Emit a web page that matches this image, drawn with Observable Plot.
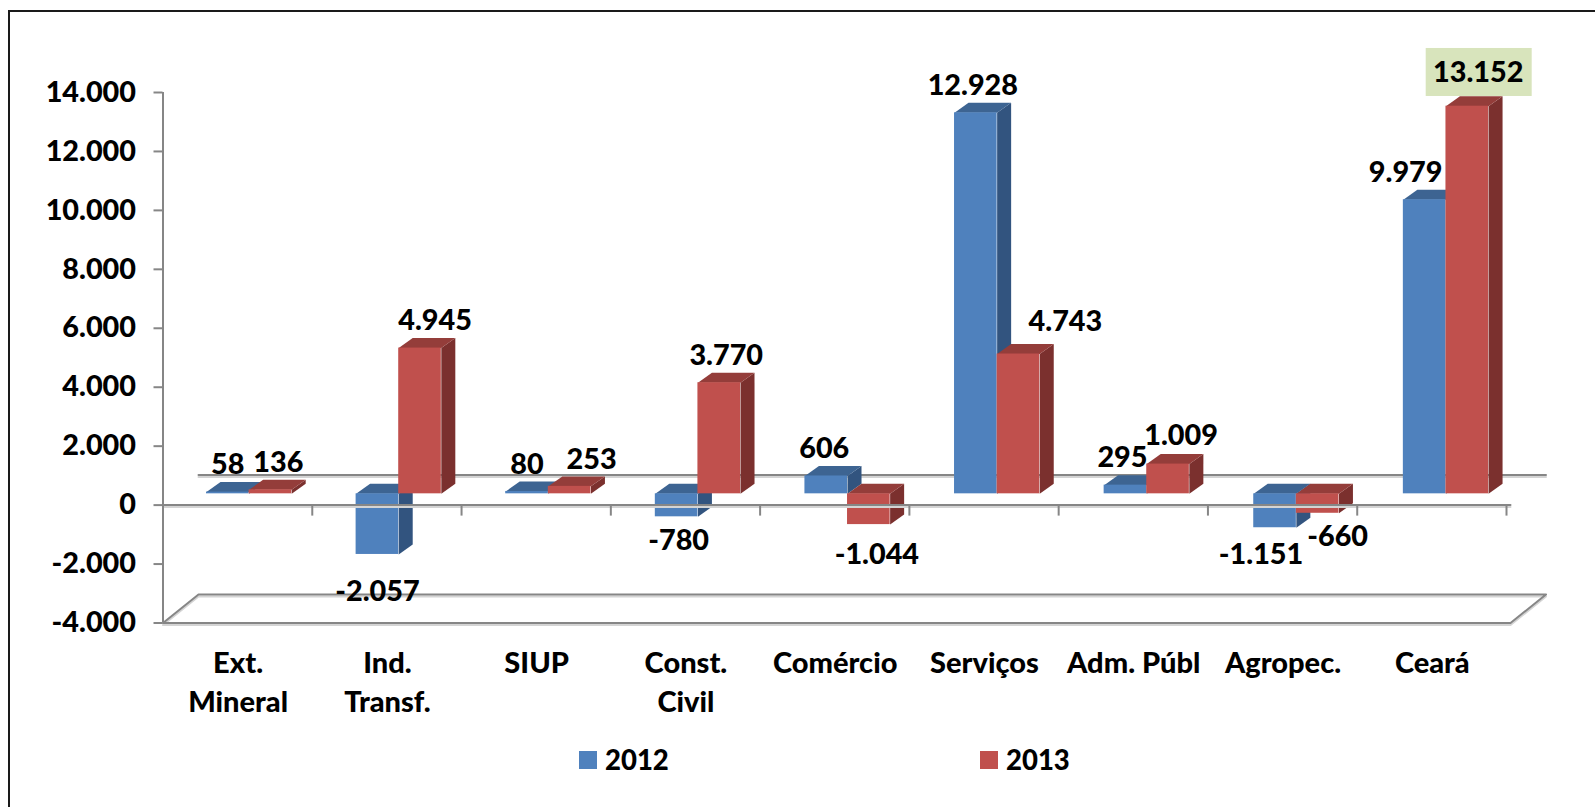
<!DOCTYPE html>
<html>
<head>
<meta charset="utf-8">
<script src="https://cdn.jsdelivr.net/npm/d3@7"></script>
<script src="https://cdn.jsdelivr.net/npm/@observablehq/plot@0.6"></script>
<style>
html,body{margin:0;padding:0;background:#fff;overflow:hidden;}
body{width:1595px;height:807px;position:relative;font-family:Lato,sans-serif;}
#frame{position:absolute;left:8px;top:10px;width:1700px;height:900px;border-style:solid;border-color:#1a1a1a;box-sizing:border-box;border-width:2.5px 0 0 2.5px;}
#chart{position:absolute;left:0;top:0;}
#legend{position:absolute;left:0;top:741px;width:1595px;height:40px;font:900 27.5px Lato,sans-serif;color:#000;}
.sw{position:absolute;top:10px;width:18px;height:18px;}
.lb{position:absolute;top:2px;line-height:34px;}
</style>
</head>
<body>
<div id="frame"></div>
<div id="chart"></div>
<div id="legend"></div>
<script>
const categories = ["Ext.\nMineral","Ind.\nTransf.","SIUP","Const.\nCivil","Comércio","Serviços","Adm. Públ","Agropec.","Ceará"];
const values2012 = [58,-2057,80,-780,606,12928,295,-1151,9979];
const values2013 = [136,4945,253,3770,-1044,4743,1009,-660,13152];
const yTicks = [-4000,-2000,0,2000,4000,6000,8000,10000,12000,14000];
const years = ["2012","2013"];
const colors2012 = {front:"#4F81BD",top:"#3D6492",side:"#32547F"};
const colors2013 = {front:"#C0504D",top:"#943D3A",side:"#7B302E"};
const nudge2012 = [[0,-27],[0,37],[0,-27],[2,24],[-2,-27],[-3,-27],[-3,-27],[-14,27],[-19,-27]];
const nudge2013 = [[8,-27],[15,-27],[22,-27],[7,-27],[8,30],[47,-32],[13,-28],[20,24],[11,-33]];

// Layout of the pseudo-3D scene, in data units
const barStart = 0.2914, barWidth = 0.2854, base = 383, groupStep = 1.0022;
const depthX = 0.0938, depthY = 339;
const wallX = 0.2378, floorDepth = 967, wallY = 1021, overshoot = 0.027;
const axisGray = "#868686", shadow = "#d4d4d4", noteFill = "#D8E4BC";
const FS = 28.8;

const loc = d3.formatLocale({decimal:",",thousands:".",grouping:[3],currency:["",""],minus:"-"});
const fmt = loc.format(",d");

function bars(values, k, col) {
  return values.map((v,i)=>{
    const x1 = i*groupStep+barStart+k*barWidth, x2 = x1+barWidth;
    const hi = base+Math.max(v,0), lo = base+Math.min(v,0);
    return {i,v,x1,x2,hi,lo,cx:(x1+x2)/2,end:base+v,col};
  });
}
function sideFaces(bs){
  return bs.flatMap(b=>[[b.x2,b.hi],[b.x2+depthX,b.hi+depthY],[b.x2+depthX,b.lo+depthY],[b.x2,b.lo],[b.x2,b.hi]]
    .map(([x,y])=>({x,y,id:b.i})));
}
function topFaces(bs){
  return bs.flatMap(b=>[[b.x1,b.hi],[b.x1+depthX,b.hi+depthY],[b.x2+depthX,b.hi+depthY],[b.x2,b.hi],[b.x1,b.hi]]
    .map(([x,y])=>({x,y,id:b.i})));
}
const b12 = bars(values2012,0,colors2012), b13 = bars(values2013,1,colors2013);
const poly = (d,fill)=>Plot.line(d,{x:"x",y:"y",z:"id",fill,stroke:"none",curve:"linear"});
const front = (bs,fill)=>Plot.rect(bs,{x1:"x1",x2:"x2",y1:"lo",y2:"hi",fill});

const n = categories.length, xEnd = n+overshoot;
const floor = [[0,-4000],[xEnd,-4000],[xEnd+wallX,-4000+floorDepth],[wallX,-4000+floorDepth],[0,-4000]].map(([x,y])=>({x,y}));
const wallLine = [[wallX,wallY],[xEnd+wallX,wallY]].map(([x,y])=>({x,y}));
const zeroLine = [[0,0],[xEnd,0]].map(([x,y])=>({x,y}));
const xTickPos = d3.range(n+1);
const shaded = (d,w=2)=>[
  Plot.line(d,{x:"x",y:"y",stroke:shadow,strokeWidth:w,dy:2,curve:"linear"}),
  Plot.line(d,{x:"x",y:"y",stroke:axisGray,strokeWidth:w,curve:"linear"})
];
const labelMarks = (bs,nudges)=>bs.map((b,i)=>Plot.text([b],{
  x:"cx",y:"end",text:d=>fmt(d.v),dx:nudges[i][0],dy:nudges[i][1],
  fontSize:FS,fontWeight:900,fill:"#000",lineAnchor:"middle",textAnchor:"middle"}));

const highlight = b13[8];
const chart = Plot.plot({
  width:1595,height:740,
  marginLeft:162.5,marginRight:89,marginTop:92,marginBottom:117.5,
  style:{background:"transparent",fontFamily:"Lato,sans-serif"},
  x:{type:"linear",domain:[0,n],axis:null},
  y:{type:"linear",domain:[-4000,14000],axis:null},
  marks:[
    ...shaded(wallLine),
    ...shaded(floor),
    poly(sideFaces(b12),colors2012.side),
    poly(topFaces(b12),colors2012.top),
    front(b12,colors2012.front),
    poly(sideFaces(b13),colors2013.side),
    poly(topFaces(b13),colors2013.top),
    front(b13,colors2013.front),
    ...shaded(zeroLine),
    Plot.ruleX(xTickPos,{y1:0,y2:-373,stroke:axisGray,strokeWidth:2}),
    Plot.ruleX([0],{y1:-4000,y2:14000,stroke:axisGray,strokeWidth:2}),
    Plot.axisY(yTicks,{anchor:"left",tickSize:9,tickPadding:18,stroke:axisGray,strokeWidth:2,
      tickFormat:fmt,fontSize:FS,fontWeight:900,fill:"#000",label:null}),
    Plot.text(categories,{x:(d,i)=>i+0.503,y:()=>-4000,text:d=>d,dy:22,lineAnchor:"top",lineHeight:1.35,
      fontSize:29,fontWeight:900,fill:"#000",textAnchor:"middle"}),
    Plot.rect([highlight],{x1:d=>d.cx-0.275,x2:d=>d.cx+0.435,y1:d=>d.end+330,y2:d=>d.end+1959,fill:noteFill}),
    ...labelMarks(b12,nudge2012),
    ...labelMarks(b13,nudge2013)
  ]
});
document.getElementById("chart").appendChild(chart);

const legendEl = document.getElementById("legend");
[[579,605,colors2012.front],[980,1006,colors2013.front]].forEach(([sx,tx,c],i)=>{
  const s=document.createElement("div");s.className="sw";s.style.left=sx+"px";s.style.background=c;legendEl.appendChild(s);
  const t=document.createElement("div");t.className="lb";t.style.left=tx+"px";t.textContent=years[i];legendEl.appendChild(t);
});
</script>
</body>
</html>
